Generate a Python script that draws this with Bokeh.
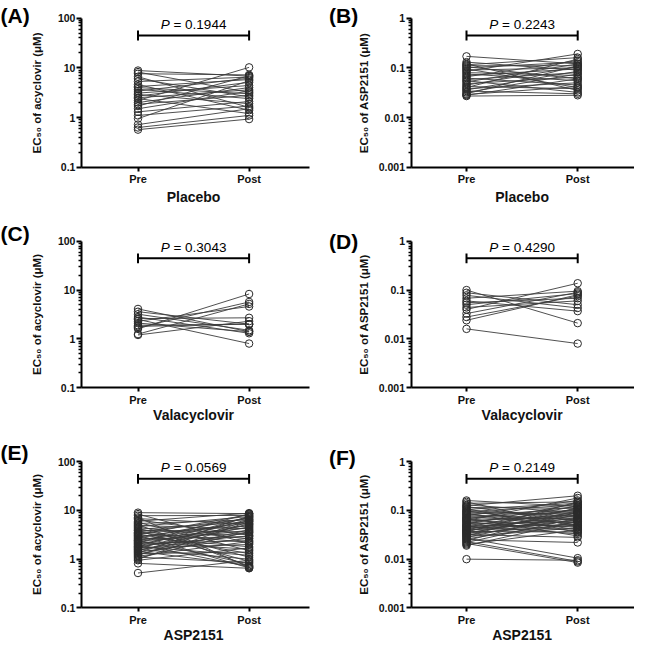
from bokeh.plotting import figure
from bokeh.models import Range1d, FixedTicker, CustomJSTickFormatter, Label, ColumnDataSource
from bokeh.layouts import column, row
from bokeh.embed import file_html
from bokeh.resources import INLINE

# ---------------- data ----------------
categories = ["Pre", "Post"]
panel_letters = ["(A)", "(B)", "(C)", "(D)", "(E)", "(F)"]
group_names = ["Placebo", "Placebo", "Valacyclovir", "Valacyclovir", "ASP2151", "ASP2151"]
p_values = ["0.1944", "0.2243", "0.3043", "0.4290", "0.0569", "0.2149"]
y_titles = ["EC\u2085\u2080 of acyclovir (\u03bcM)", "EC\u2085\u2080 of ASP2151 (\u03bcM)"]

acyclovir_ticks = [0.1, 1, 10, 100]
asp_ticks = [0.001, 0.01, 0.1, 1]
minor_mantissas = [2, 3, 4, 5, 6, 7, 8, 9]

# (A) Placebo, acyclovir EC50 (uM)
pre_A = [8.8, 8.2, 7.6, 6.6, 6.0, 5.3, 4.6, 4.2, 4.0, 3.7, 3.4, 3.1, 2.9, 2.7,
         2.5, 2.4, 2.2, 2.0, 1.85, 1.7, 1.5, 1.3, 1.1, 0.95, 0.72, 0.63, 0.57]
post_A = [6.8, 3.2, 7.2, 1.6, 2.6, 6.5, 1.4, 5.8, 3.0, 2.4, 6.2, 4.4, 1.9, 5.1,
          3.6, 1.2, 10.2, 4.0, 2.8, 6.9, 3.4, 2.1, 1.7, 5.5, 1.5, 1.1, 0.93]

# (B) Placebo, ASP2151 EC50 (uM)
pre_B = [0.17, 0.13, 0.12, 0.115, 0.11, 0.105, 0.1, 0.095, 0.09, 0.085, 0.08, 0.075,
         0.07, 0.066, 0.062, 0.058, 0.055, 0.052, 0.048, 0.045, 0.042, 0.04, 0.038,
         0.036, 0.034, 0.032, 0.03, 0.029, 0.028, 0.027]
post_B = [0.12, 0.09, 0.035, 0.16, 0.11, 0.06, 0.13, 0.04, 0.1, 0.19, 0.07, 0.055,
          0.095, 0.14, 0.045, 0.08, 0.032, 0.12, 0.065, 0.105, 0.038, 0.15, 0.05,
          0.085, 0.03, 0.075, 0.11, 0.042, 0.06, 0.028]

# (C) Valacyclovir, acyclovir EC50 (uM)
pre_C = [4.1, 3.6, 3.2, 2.8, 2.6, 2.5, 2.3, 2.1, 1.9, 1.8, 1.7, 1.6, 1.25, 1.2]
post_C = [1.4, 2.0, 1.5, 1.3, 2.7, 0.8, 4.6, 1.4, 2.0, 2.0, 5.7, 8.3, 5.2, 2.3]

# (D) Valacyclovir, ASP2151 EC50 (uM)
pre_D = [0.1, 0.088, 0.078, 0.068, 0.06, 0.055, 0.05, 0.044, 0.04, 0.033, 0.028, 0.024, 0.016]
post_D = [0.021, 0.05, 0.043, 0.095, 0.037, 0.068, 0.085, 0.06, 0.138, 0.09, 0.075, 0.08, 0.008]

# (E) ASP2151, acyclovir EC50 (uM)
pre_E = [9.0, 8.4, 7.8, 7.2, 6.8, 6.4, 6.0, 5.7, 5.4, 5.1, 4.9, 4.7, 4.5, 4.3, 4.1,
         3.9, 3.8, 3.6, 3.5, 3.4, 3.3, 3.2, 3.1, 3.0, 2.9, 2.8, 2.7, 2.6, 2.5, 2.45,
         2.4, 2.3, 2.25, 2.2, 2.1, 2.05, 2.0, 1.9, 1.85, 1.8, 1.75, 1.7, 1.65, 1.6,
         1.55, 1.5, 1.45, 1.4, 1.35, 1.3, 1.25, 1.2, 1.15, 1.1, 1.05, 1.0, 0.95, 0.82, 0.52]
post_E = [8.6, 2.1, 7.9, 0.68, 5.2, 3.1, 8.8, 1.5, 6.4, 0.72, 4.2, 7.5, 2.6, 1.1, 5.8,
          3.6, 0.9, 6.8, 2.2, 4.8, 1.3, 8.2, 0.66, 3.3, 5.5, 1.8, 7.1, 2.9, 4.4, 0.8,
          6.1, 3.9, 1.6, 8.5, 2.4, 5.0, 0.7, 3.0, 7.3, 1.2, 4.6, 2.0, 6.6, 1.0, 3.5,
          5.3, 0.75, 2.7, 7.7, 1.4, 4.0, 6.3, 2.3, 0.85, 3.7, 5.9, 1.7, 0.65, 0.95]

# (F) ASP2151, ASP2151 EC50 (uM)
pre_F = [0.16, 0.15, 0.14, 0.13, 0.125, 0.12, 0.115, 0.11, 0.105, 0.1, 0.097, 0.094,
         0.09, 0.087, 0.084, 0.081, 0.078, 0.075, 0.072, 0.07, 0.068, 0.066, 0.064,
         0.062, 0.06, 0.058, 0.056, 0.054, 0.052, 0.05, 0.049, 0.048, 0.046, 0.045,
         0.044, 0.042, 0.041, 0.04, 0.039, 0.038, 0.037, 0.036, 0.035, 0.034, 0.033,
         0.032, 0.031, 0.03, 0.029, 0.028, 0.027, 0.026, 0.025, 0.024, 0.023, 0.022,
         0.021, 0.02, 0.019, 0.01]
post_F = [0.12, 0.045, 0.15, 0.09, 0.2, 0.06, 0.11, 0.035, 0.14, 0.075, 0.05, 0.13,
          0.085, 0.04, 0.1, 0.065, 0.16, 0.055, 0.095, 0.03, 0.12, 0.07, 0.045, 0.18,
          0.08, 0.038, 0.105, 0.058, 0.14, 0.048, 0.09, 0.033, 0.068, 0.125, 0.052,
          0.078, 0.042, 0.11, 0.062, 0.088, 0.036, 0.15, 0.072, 0.05, 0.098, 0.028,
          0.065, 0.115, 0.044, 0.083, 0.0105, 0.058, 0.022, 0.092, 0.009, 0.07, 0.0085,
          0.04, 0.06, 0.0095]

# ---------------- layout / style (pixels inside each figure) ----------------
FONT = "Liberation Sans"
COLS = [
    dict(w=317, yaxis=80.9, pre=137.5, post=248.6, xend=309.0, letter_x=0.0, lab_standoff=12),
    dict(w=317, yaxis=93.5, pre=149.0, post=260.2, xend=316.5, letter_x=11.5, lab_standoff=6),
]
ROWS = [
    dict(h=212, top=17.6, bottom=166.7, group_gap=30.0),
    dict(h=220, top=28.8, bottom=175.1, group_gap=27.5),
    dict(h=213, top=29.2, bottom=175.4, group_gap=27.0),
]
LETTER_BASE = [15.1, 15.1, 20.8, 29.0, 20.2, 25.1]


def build(idx, pre, post, ticks):
    c = COLS[idx % 2]
    r = ROWS[idx // 2]
    W, H = c["w"], r["h"]
    unit = c["post"] - c["pre"]
    xs = -c["pre"] / unit
    xe = (W - c["pre"]) / unit
    y_axis_at = (c["yaxis"] - c["pre"]) / unit
    x_axis_end = (c["xend"] - c["pre"]) / unit
    ylo, yhi = ticks[0], ticks[-1]
    dec = (r["bottom"] - r["top"]) / (len(ticks) - 1)
    ys = ylo / 10 ** ((H - r["bottom"]) / dec)
    ye = yhi * 10 ** (r["top"] / dec)

    p = figure(width=W, height=H, x_range=Range1d(xs, xe), y_range=Range1d(ys, ye),
               y_axis_type="log", output_backend="svg", toolbar_location=None,
               min_border=0)
    p.outline_line_color = None
    p.xgrid.visible = False
    p.ygrid.visible = False
    p.background_fill_color = "white"
    p.border_fill_color = "white"

    xi_pre = categories.index("Pre")
    xi_post = categories.index("Post")
    n = len(pre)
    assert n == len(post)
    src = ColumnDataSource(dict(x0=[xi_pre] * n, x1=[xi_post] * n, pre=pre, post=post))
    p.segment(x0="x0", y0="pre", x1="x1", y1="post", source=src,
              line_color="#3c3c3c", line_width=0.9)
    p.scatter(x="x0", y="pre", source=src, size=7.5, marker="circle",
              fill_color=None, line_color="#2a2a2a", line_width=1)
    p.scatter(x="x1", y="post", source=src, size=7.5, marker="circle",
              fill_color=None, line_color="#2a2a2a", line_width=1)

    # significance bracket
    yb = yhi / 10 ** 0.35
    p.segment(x0=[xi_pre, xi_pre, xi_post], x1=[xi_post, xi_pre, xi_post],
              y0=[yb, yb / 10 ** 0.1, yb / 10 ** 0.1],
              y1=[yb, yb * 10 ** 0.1, yb * 10 ** 0.1],
              line_color="black", line_width=2)
    fs = 13.5
    total_w = 4.865 * fs
    left = -total_w / 2
    yp = yhi / 10 ** 0.12
    mid = (xi_pre + xi_post) / 2
    p.add_layout(Label(x=mid, y=yp, x_offset=left, text="P", text_font=FONT,
                       text_font_style="italic", text_font_size=f"{fs}px",
                       text_align="left", text_baseline="middle", text_color="black"))
    p.add_layout(Label(x=mid, y=yp, x_offset=left + (0.667 + 0.278) * fs,
                       text="= " + p_values[idx], text_font=FONT, text_font_size=f"{fs}px",
                       text_align="left", text_baseline="middle", text_color="black"))

    # group label under the x axis
    p.add_layout(Label(x=mid, y=H - (r["bottom"] + r["group_gap"]), x_units="data",
                       y_units="screen", text=group_names[idx], text_font=FONT,
                       text_font_style="bold", text_font_size="14px", text_align="center",
                       text_baseline="middle", text_color="#111111"))
    # panel letter
    p.add_layout(Label(x=c["letter_x"], y=H - LETTER_BASE[idx], x_units="screen",
                       y_units="screen", text=panel_letters[idx], text_font=FONT,
                       text_font_style="bold", text_font_size="21px", text_align="left",
                       text_baseline="alphabetic", text_color="black"))

    # axes
    minors = [m * t for t in ticks[:-1] for m in minor_mantissas]
    ya = p.yaxis[0]
    ya.fixed_location = y_axis_at
    ya.bounds = (ylo, yhi)
    ya.ticker = FixedTicker(ticks=ticks, minor_ticks=minors)
    ya.formatter = CustomJSTickFormatter(code="return String(tick);")
    ya.axis_label = y_titles[idx % 2]
    ya.axis_label_text_font = FONT
    ya.axis_label_text_font_style = "bold"
    ya.axis_label_text_font_size = "11.5px"
    ya.axis_label_text_color = "#111111"
    ya.axis_label_standoff = c["lab_standoff"]
    ya.major_label_text_font = FONT
    ya.major_label_text_font_style = "bold"
    ya.major_label_text_font_size = "10.5px"
    ya.major_label_text_color = "#111111"
    ya.major_label_standoff = 1
    ya.axis_line_width = 2
    ya.major_tick_line_width = 2
    ya.major_tick_out = 5
    ya.major_tick_in = 0
    ya.minor_tick_line_width = 1.5
    ya.minor_tick_out = 3
    ya.minor_tick_in = 0

    xa = p.xaxis[0]
    xa.fixed_location = ylo
    xa.bounds = (y_axis_at, x_axis_end)
    xa.ticker = FixedTicker(ticks=[xi_pre, xi_post])
    xa.major_label_overrides = {xi_pre: categories[xi_pre], xi_post: categories[xi_post]}
    xa.major_label_text_font = FONT
    xa.major_label_text_font_style = "bold"
    xa.major_label_text_font_size = "11px"
    xa.major_label_text_color = "#111111"
    xa.major_label_standoff = 2
    xa.axis_line_width = 2
    xa.major_tick_line_width = 2
    xa.major_tick_out = 4
    xa.major_tick_in = 0
    xa.minor_tick_line_color = None
    return p


pA = build(0, pre_A, post_A, acyclovir_ticks)
pB = build(1, pre_B, post_B, asp_ticks)
pC = build(2, pre_C, post_C, acyclovir_ticks)
pD = build(3, pre_D, post_D, asp_ticks)
pE = build(4, pre_E, post_E, acyclovir_ticks)
pF = build(5, pre_F, post_F, asp_ticks)

layout = column(row(pA, pB), row(pC, pD), row(pE, pF))
open("out.html", "w").write(file_html(layout, INLINE))
